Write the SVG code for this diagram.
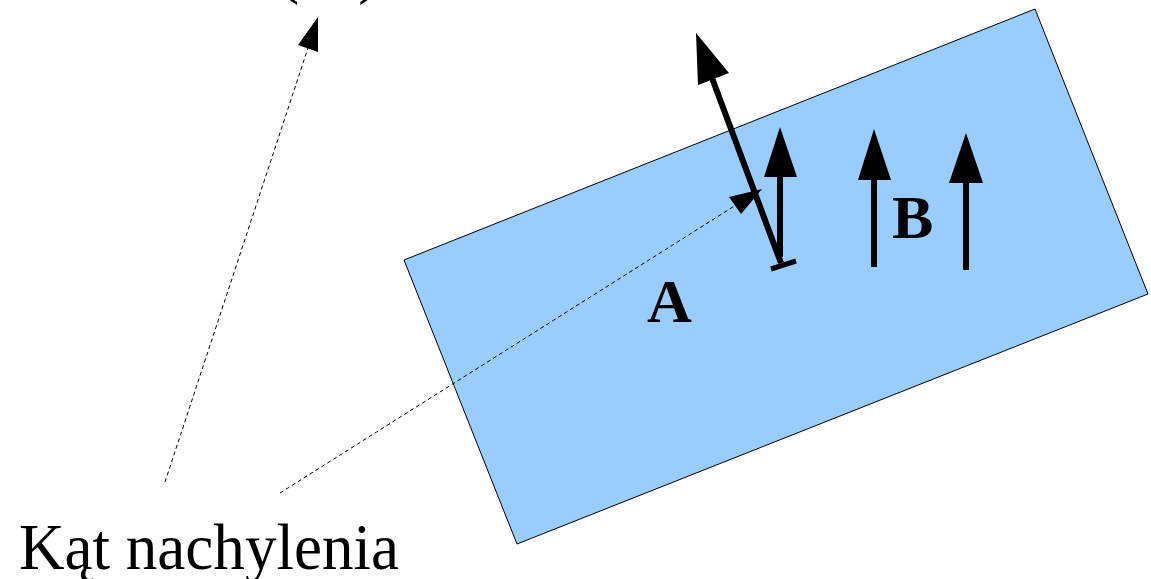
<svg xmlns="http://www.w3.org/2000/svg" width="1151" height="579" viewBox="0 0 1151 579">
<style>
.dash{fill:none;stroke:#000;stroke-width:1;stroke-dasharray:4,3}
.thick{fill:none;stroke:#000;stroke-width:6}
.head{fill:#000;stroke:none}
.lbl{font-family:"Liberation Serif","Times New Roman",serif;font-weight:bold;font-size:62px;fill:#000}
.cap{font-family:"Liberation Serif","Times New Roman",serif;font-size:70px;fill:#000}
</style>
<rect width="1151" height="579" fill="#fff"/>
<g id="plate">
<polygon points="404,260 1035,9 1148,294 517,544" fill="#99ccff" stroke="#000" stroke-width="1"/>
</g>
<g id="top-text">
<text class="cap" x="276" y="-10">(</text>
<text class="cap" x="358" y="-10">)</text>
</g>
<g id="connectors">
<line class="dash" x1="165" y1="482" x2="308" y2="48"/>
<polygon class="head" points="318,17 298,45 318,52"/>
<line class="dash" x1="280" y1="493" x2="736" y2="205"/>
<polygon class="head" points="762,189 729,197 741,214"/>
<line class="thick" x1="781" y1="263" x2="712" y2="78"/>
<polygon class="head" points="696,33 698,85 729,73"/>
<line stroke="#000" stroke-width="5" x1="771" y1="269" x2="796" y2="261"/>
<line class="thick" x1="780" y1="257" x2="780" y2="175"/>
<polygon class="head" points="780,127 764,177 797,177"/>
<line class="thick" x1="874" y1="267" x2="874" y2="178"/>
<polygon class="head" points="874,129 858,180 891,180"/>
<line class="thick" x1="966" y1="270" x2="966" y2="181"/>
<polygon class="head" points="966,133 949,183 983,183"/>
</g>
<g id="label-A"><text class="lbl" x="647" y="322">A</text></g>
<g id="label-B"><text class="lbl" x="892" y="238">B</text></g>
<g id="caption"><text class="cap" x="19" y="569" style="font-size:66px" textLength="380" lengthAdjust="spacingAndGlyphs">Kąt nachylenia</text></g>
</svg>
